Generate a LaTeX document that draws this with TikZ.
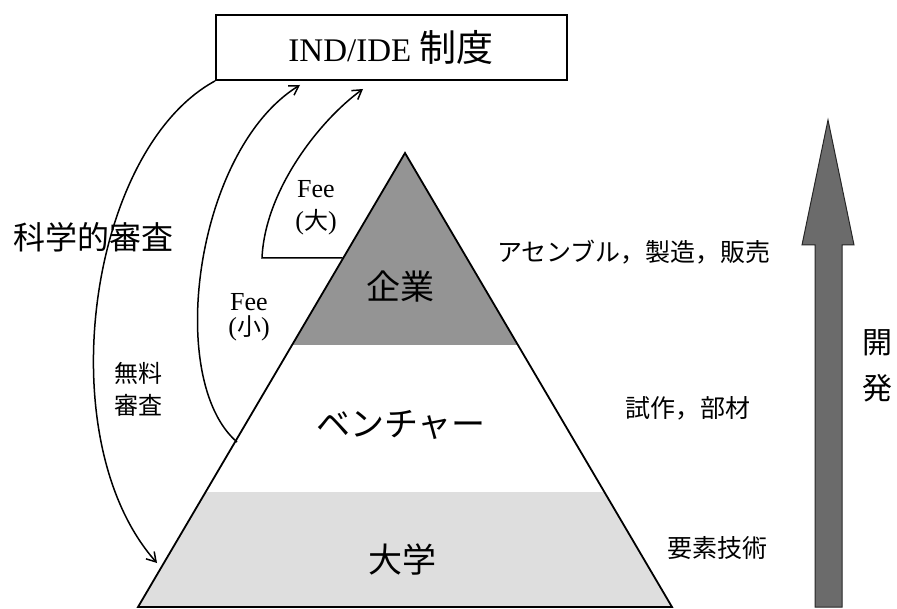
\documentclass[tikz,border=0pt]{standalone}
\usepackage{fontspec}
\setmainfont{Liberation Serif}
\newfontfamily\jp{Noto Sans CJK JP}
\usetikzlibrary{arrows.meta}
\begin{document}
\begin{tikzpicture}[x=1pt,y=-1pt,
  lbl/.style={inner sep=0pt,outer sep=0pt},
  conn/.style={line width=1.5pt,-{Straight Barb[length=9pt,width=11pt,line width=1.5pt]}},
  edge/.style={line width=1.8pt,line join=miter}]
\useasboundingbox (0,0) rectangle (897,609);
% triangle bands
\fill[black!42] (405,153) -- (517.9,345) -- (292.1,345) -- cycle;
\fill[black!13] (205.6,492) -- (604.4,492) -- (672,607) -- (138,607) -- cycle;
\draw[edge] (138,607) -- (405,153) -- (672,607) -- cycle;
% box
\node[draw,line width=1.8pt,minimum width=351pt,minimum height=65pt,inner sep=0pt] (box) at (391.5,47.5) {};
\node[lbl,font=\fontsize{33}{33}\selectfont] at (391,47) {IND/IDE {\jp\fontsize{37}{37}\selectfont 制度}};
% big arrow
\draw[fill=black!58,draw=black!85,line width=1pt]
  (815,607) -- (842,607) -- (842,245) -- (854,245) -- (828,120) -- (802,245) -- (815,245) -- cycle;
% connector points
\coordinate (aEnd) at (157,563);
\coordinate (bStart) at (237,442);
\coordinate (bEnd) at (300,85);
\coordinate (cStart) at (342.5,258);
\coordinate (cCorner) at (262,258);
\coordinate (cEnd) at (363,89);
\draw[conn] (box.south west) .. controls (88,150) and (48,440) .. (aEnd);
\draw[conn] (bStart) .. controls (165,380) and (195,150) .. (bEnd);
\draw[conn] (cStart) -- (cCorner) .. controls (265,190) and (320,120) .. (cEnd);
% labels
\node[lbl,font=\jp\fontsize{32}{32}\selectfont] (sci) at (93,237) {科学的審査};
\node[lbl,font=\jp\fontsize{24}{24}\selectfont] (free1) at (138,373) {無料};
\node[lbl,font=\jp\fontsize{24}{24}\selectfont] (free2) at (138,405) {審査};
\node[lbl,font=\fontsize{26}{26}\selectfont] (fees) at (249,302) {Fee};
\node[lbl,font=\fontsize{26}{26}\selectfont] (fees2) at (249,328) {({\jp\fontsize{24}{24}\selectfont 小})};
\node[lbl,font=\fontsize{26}{26}\selectfont] (feel) at (316,189) {Fee};
\node[lbl,font=\fontsize{26}{26}\selectfont] (feel2) at (316,222) {({\jp\fontsize{24}{24}\selectfont 大})};
\node[lbl,font=\jp\fontsize{34}{34}\selectfont] (corp) at (400,287) {企業};
\node[lbl,font=\jp\fontsize{34}{34}\selectfont] (vent) at (401,425) {ベンチャー};
\node[lbl,font=\jp\fontsize{34}{34}\selectfont] (univ) at (402,560) {大学};
\node[lbl,font=\jp\fontsize{25}{25}\selectfont] (r1) at (634,252) {アセンブル，製造，販売};
\node[lbl,font=\jp\fontsize{25}{25}\selectfont] (r2) at (688,408) {試作，部材};
\node[lbl,font=\jp\fontsize{25}{25}\selectfont] (r3) at (717,548) {要素技術};
\node[lbl,font=\jp\fontsize{30}{30}\selectfont] (dev1) at (877,343) {開};
\node[lbl,font=\jp\fontsize{30}{30}\selectfont] (dev2) at (877,388) {発};
\end{tikzpicture}
\end{document}
